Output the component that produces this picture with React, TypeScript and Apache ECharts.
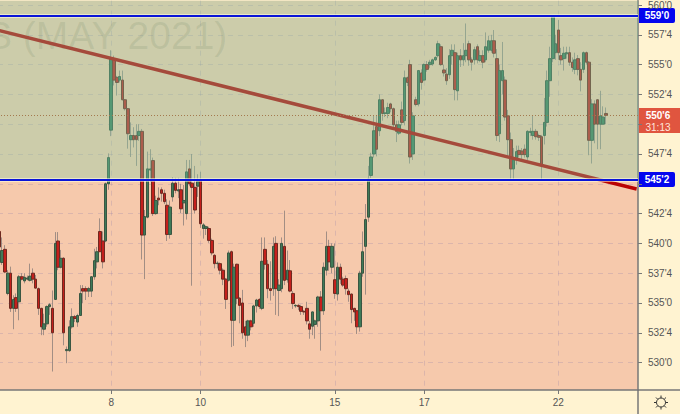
import React, { useEffect, useRef } from "react";
import * as echarts from "echarts";

const opens = [
  541,538.4,539.5,535.8,537.5,534.55,535.45,535.1,537.2,536.85,
  537,536.9,537.5,537,536.2,534.55,532.8,533.25,534.7,534.55,
  535.3,540.2,538,538.75,531,531,533,533.85,533.4,533.95,
  536.2,536.2,536,536,537.2,538.45,541,540.2,540.2,545,
  549.5,555.47,553.93,553.7,553.7,552.05,551.3,548.7,549.05,549.05,
  549.05,549.4,540.7,542.2,546.15,546.95,542.5,543.8,544.5,544.2,
  543.2,540.75,543.9,545.05,544.4,544.5,543.4,542.5,546.25,545.05,
  544.7,544.8,545.27,541.25,541.25,541.25,540.25,539,538.3,538.3,
  537.75,537,536.9,539.3,533.55,538.25,535.4,535,533,532.3,
  533.5,533.3,534.75,535.3,534.55,539.5,538.25,536.2,536.2,540,
  536.05,536.2,539.75,536.95,537.7,535.8,534.75,534.8,534.7,534.3,
  534.55,533.25,533.05,533.2,533.5,535.5,534.35,537.75,539.75,538,
  536.95,535.75,538,537,537.05,536,535.75,534.55,534.35,533,
  537.5,539.75,542.2,545.7,547.5,549.8,549.45,552.05,550.9,550.9,
  551.7,551.3,549.95,549.25,551.2,550.3,553.9,555,547.5,552.05,
  551.7,554.3,553.7,555,555,555.05,555.4,555.75,556.5,554.55,
  554.2,554.15,555.75,556,552.8,555.75,555.4,555.75,556.75,555.4,
  555.4,556.5,555.35,555.75,555.4,556.2,556.2,557,555.5,549.2,
  553.65,553.7,550.7,548.7,546.25,547,547.8,547.75,547.9,547.25,
  549.3,549.05,549.4,549.05,548.95,549.05,550.15,553.65,555.5,556,
  557.9,555.75,555.5,555.9,556,555.2,554.6,555.5,554.6,554.6,
  556,555.2,548.65,551.7,552.05,550,550,550.9,
];
const closes = [
  539.7,539.4,537.6,537.5,534.55,535.3,534.55,537.2,537,537.15,
  537.1,537.25,537,536.25,534.55,533,533.25,534.7,534.85,532.5,
  540,538,538.75,532.5,531.1,533,533.85,533.7,533.95,535.8,
  536,536,536.2,537.2,538.55,539.3,539.3,538.45,545,547.2,
  555.5,553.7,553.5,554,552.05,551.3,549.2,549.05,548.7,548.7,
  549.4,540.7,542.25,546.25,546.25,542.5,543.6,543.65,544.2,543.5,
  540.75,543.05,545.05,544.45,544.5,542.9,543.6,546,545,544.7,
  542.8,545.2,541.65,541.55,541.4,540.25,539.2,538.3,538.35,537.75,
  537,535.3,539.2,533.55,538,535.4,534.8,532.5,532.3,533.5,
  533,534.75,535.25,534.7,538.5,538.25,536.2,536.05,539.75,536.2,
  536.5,540,536.9,537.75,536,534.95,534.8,534.7,534.3,534.25,
  533.5,532.8,534.25,533.5,535.5,534.35,538,539.75,538.45,539.75,
  535.8,538,537,536.5,536.2,535.7,534.45,534.25,533,537.5,
  539.3,542,545.4,547.25,549.45,547.9,552.05,550.9,550.95,551.4,
  551.3,549.95,549.4,549.95,550.15,553.9,553.5,547.25,550.7,551.65,
  554.5,553.5,555,554.6,555.2,555.4,555.6,556.75,555,554.3,
  553.65,555.75,556.2,552.9,555.75,555.4,555.75,556.2,555.4,555.2,
  556.25,555.4,555.75,555.2,556.5,557,557,555.95,549.05,554.5,
  554.5,550.6,548.7,546.25,547,547.7,547.45,547.45,547.45,549.4,
  549.4,549.4,548.95,548.9,546.6,550.15,553.65,555.5,559.1,556.75,
  556,555.4,555.95,556,555.2,554.75,555.4,554.6,553.7,556,
  555.2,548.65,551.7,550,550,550.7,550.6,550.75,
];
const lows = [
  539.6,538.2,537.5,535.65,534.25,532.8,534.25,533.55,536.9,536.65,
  536.9,536.8,536.65,536.2,534,532.3,532.3,533,534,529.25,
  535.25,537.75,537.9,531.45,529.95,530.9,532.85,533.4,533,533.95,
  535,535.25,535.5,535.5,536.95,537.9,539.3,537.9,540.1,544.5,
  549,553.25,552.4,553.5,552,551.15,547.95,547.25,548.05,546.5,
  548.6,538.65,537,542.1,545.15,542.3,542.4,543.2,543.5,543.3,
  540.2,540.4,543.5,544.2,543.8,542.55,541.5,542,544.8,536.45,
  542.5,543.9,541.3,540.4,540.7,540.05,539,537.9,537.9,537.4,
  536.5,534.5,536.8,531.3,531.4,534.9,533.3,532,531.3,531.8,
  532.7,533,534.2,534.5,534.4,537.8,535.4,535.2,535.6,534,
  533.9,535.9,536.5,536.7,535.9,534.5,534.6,534.4,534,534,
  533.2,532,532.3,532,533,531,534,537.3,537.7,537.5,
  535.35,535.2,536.6,536.35,535.7,535.1,533.3,533.5,532.4,532.6,
  537.2,535.7,541.8,545.5,547.2,547.3,549,550.3,550.6,550.5,
  551,549.7,548.5,549.1,549.9,549.9,553.2,546.7,547,551.5,
  551.5,552.9,553.6,554.4,554.7,554.9,555.3,555.6,554.9,554,
  553.3,553.8,555,552,552,554.8,554.9,555.2,554.9,554.5,
  555,555.1,555.2,554.7,555.2,556,556,555.6,548.6,548.5,
  552.5,550.3,547.3,545.25,545.3,546.6,547.2,546.9,547.2,547,
  549,548.7,548.7,548.6,545.4,548.3,549.8,552.3,555.2,555.4,
  555.4,555,554.5,555.5,554.9,554.4,554.2,554.1,552.75,554.3,
  555,547.4,546.7,548.4,547.9,547.9,550,550,
];
const highs = [
  541.05,540.5,539.85,537.75,538.05,535.65,535.8,537.35,537.5,537.5,
  537.3,538.3,537.9,537.35,536.3,534.6,534.1,534.8,535,536.05,
  540.95,540.95,539.45,538.85,531.35,533.55,534.55,534,534.1,536.5,
  536.5,536.4,536.35,537.25,539.55,539.7,542.1,541,545.1,547.55,
  556.2,555.75,554.05,554.5,554.5,552.1,551.35,550.15,549.75,550,
  550,549.6,542.8,547.7,547.9,547.2,544,544.7,544.7,544.5,
  543.7,543.6,545.55,545.5,545.5,545,544.9,547,547,547.5,
  546.5,545.8,546,541.7,541.5,541.4,540.4,539.1,538.5,538.4,
  537.9,537.1,539.4,539.4,538.3,538.3,535.5,536.1,533.5,533.6,
  533.6,534.85,535.35,535.4,540.5,540.5,538.6,538.5,540.5,540.6,
  537,540.5,542.75,539.4,538.6,536,534.9,534.9,534.85,534.4,
  535.1,533.5,534.3,533.6,535.6,536,538.4,541,540.3,540,
  540,538.4,538.3,537.2,537.3,536.2,535.8,534.6,534.4,537.7,
  541,543.3,546.5,547.6,550.7,550.7,552.5,552.1,551.4,551.8,
  551.8,551.4,550.3,550.3,551.9,554.5,554,555.4,551,552.3,
  554.55,554.6,555.1,555.3,555.4,555.5,555.7,557,556.7,555,
  554.7,556.3,556.7,556.7,556,556.3,556.8,558.45,557,555.6,
  556.5,556.7,556.2,556.2,557.7,557.4,557.5,557.9,556.3,555,
  556.9,554,551.2,549.3,548,548.2,548.2,548,548.3,549.5,
  549.7,550.75,549.6,549.2,549.1,552.2,554.5,556.5,559.15,557.5,
  558.75,556.4,556.5,556.5,556.5,555.6,556,555.8,555.2,556.1,
  556.1,555.3,552.1,552,552.1,552.8,551.5,551.4,
];

const slotCount = 229;
const dateIndexes = [40, 72, 120, 152, 200];
const dateLabels = ["8", "10", "15", "17", "22"];
const priceTicks = [530, 532.5, 535, 537.5, 540, 542.5, 545, 547.5, 550, 552.5, 555, 557.5, 560];
// 545'0 and 550'0 sit under the price flags in the reference, so only their ticks show.
const priceLabels = [530, 532.5, 535, 537.5, 540, 542.5, 547.5, 552.5, 555, 557.5, 560];
const resistance = 559.1;
const support = 545.3;
const lastPrice = 550.75;
const trendStart = 557.85;
const trendEnd = 544.56;
const axisMin = 527.7;
const axisMax = 560.36;

const FONT = "'Liberation Sans', Arial, sans-serif";
const GEAR =
  "M-4.5 0a4.5 4.5 0 1 0 9 0a4.5 4.5 0 1 0 -9 0Z M0 -7V-4.5 M0 4.5V7 M-7 0H-4.5 M4.5 0H7 " +
  "M-5 -5L-3.2 -3.2 M3.2 3.2L5 5 M5 -5L3.2 -3.2 M-3.2 3.2L-5 5";

const fmtPrice = (v: number) => `${Math.floor(v)}'${Math.round((v - Math.floor(v)) * 8)}`;

export default function App() {
  const ref = useRef<HTMLDivElement>(null);
  useEffect(() => {
    document.body.style.margin = "0";
    echarts.graphic.registerShape("gear", echarts.graphic.extendPath(GEAR, {}));
    const chart = echarts.init(ref.current!, undefined, { renderer: "svg" });
    const cats = Array.from({ length: slotCount }, (_, i) => {
      const d = dateIndexes.indexOf(i);
      return d >= 0 ? dateLabels[d] : `b${i}`;
    });
    const isDate = (i: number) => dateIndexes.includes(i);
    const full = opens.map((o, i) => [o, closes[i], lows[i], highs[i]]);
    const bodies = opens.map((o, i) => [o, closes[i], Math.min(o, closes[i]), Math.max(o, closes[i])]);
    chart.setOption({
      animation: false,
      backgroundColor: "#fff3d1",
      textStyle: { fontFamily: FONT },
      grid: {
        left: 0,
        top: 0,
        width: 640,
        height: 390,
        show: true,
        backgroundColor: "#f6c9ac",
        borderWidth: 0,
      },
      xAxis: {
        type: "category",
        data: cats,
        axisLine: { show: true, lineStyle: { color: "#777", width: 1.5 } },
        axisTick: { show: true, interval: isDate, alignWithLabel: true, length: 4, lineStyle: { color: "#777" } },
        axisLabel: { interval: isDate, color: "#555", fontSize: 10, margin: 7, fontFamily: FONT },
        splitLine: {
          show: true,
          interval: isDate,
          alignWithLabel: true,
          lineStyle: { color: "rgba(150,130,170,0.28)", type: [5, 5], width: 1 },
        },
      },
      yAxis: {
        type: "value",
        position: "right",
        min: axisMin,
        max: axisMax,
        axisLine: { show: true, lineStyle: { color: "#777", width: 1.5 } },
        axisTick: { show: true, customValues: priceTicks, length: 4, lineStyle: { color: "#777" } },
        axisLabel: {
          customValues: priceLabels,
          formatter: (v: number) => fmtPrice(v),
          color: "#555",
          fontSize: 10,
          margin: 10,
          fontFamily: FONT,
        },
        splitLine: {
          show: true,
          lineStyle: { color: "rgba(150,130,170,0.28)", type: [5, 5], width: 1 },
        },
      },
      series: [
        {
          type: "candlestick",
          name: "wicks",
          z: 2,
          barWidth: 1,
          silent: true,
          data: full,
          itemStyle: {
            color: "#8d7f7a",
            color0: "#8d7f7a",
            borderColor: "#8d7f7a",
            borderColor0: "#8d7f7a",
            borderWidth: 1,
            opacity: 0.8,
          },
        },
        {
          type: "candlestick",
          name: "bodies",
          z: 3,
          barWidth: 3,
          silent: true,
          data: bodies,
          itemStyle: {
            color: "#3f7a58",
            color0: "#c4201c",
            borderColor: "#3a5642",
            borderColor0: "#6e2a20",
            borderWidth: 1,
          },
        },
        {
          type: "line",
          name: "trend",
          data: [],
          silent: true,
          markLine: {
            z: 4,
            silent: true,
            symbol: "none",
            label: { show: false },
            lineStyle: { color: "#ba0303", width: 3.5, type: "solid" },
            data: [[{ coord: [0, trendStart] }, { coord: [slotCount - 1, trendEnd] }]],
          },
        },
        {
          type: "line",
          name: "last",
          data: [],
          silent: true,
          markLine: {
            z: 4,
            silent: true,
            symbol: "none",
            label: { show: false },
            lineStyle: { color: "#b84a20", width: 1, type: [1, 2] },
            data: [{ yAxis: lastPrice }],
          },
        },
        {
          type: "line",
          name: "tint",
          data: [],
          silent: true,
          markArea: {
            z: 6,
            silent: true,
            itemStyle: { color: "rgba(126,210,166,0.35)" },
            data: [[{ yAxis: support }, { yAxis: axisMax }]],
          },
        },
        {
          type: "line",
          name: "halo",
          data: [],
          silent: true,
          markLine: {
            z: 7,
            silent: true,
            symbol: "none",
            label: { show: false },
            lineStyle: { color: "rgba(255,255,225,0.55)", width: 4, type: "solid" },
            data: [{ yAxis: resistance }, { yAxis: support }],
          },
        },
        {
          type: "line",
          name: "levels",
          data: [],
          silent: true,
          markLine: {
            z: 8,
            silent: true,
            symbol: "none",
            label: { show: false },
            lineStyle: { color: "#0a14d8", width: 2, type: "solid" },
            data: [{ yAxis: resistance }, { yAxis: support }],
          },
        },
      ],
      graphic: [
        {
          type: "text",
          x: -12,
          y: 16,
          z: 1,
          style: {
            text: "S (MAY 2021)",
            font: `39px ${FONT}`,
            fill: "rgba(60,60,30,0.13)",
          },
        },
        {
          type: "group",
          x: 2,
          y: 0,
          children: [
            { type: "line", shape: { x1: 638, y1: 390, x2: 638, y2: 414 }, style: { stroke: "#777", lineWidth: 1.5 } },
            { type: "line", shape: { x1: 638, y1: 390, x2: 680, y2: 390 }, style: { stroke: "#777", lineWidth: 1.5 } },
            { type: "gear", x: 661, y: 402.5, style: { stroke: "#333", fill: "none", lineWidth: 1 } },
            { type: "rect", shape: { x: 639, y: 8, width: 36, height: 15, r: [0, 2, 2, 0] }, style: { fill: "#0505ee" } },
            {
              type: "text",
              x: 657,
              y: 15.5,
              style: { text: "559'0", fill: "#fff", font: `bold 10px ${FONT}`, align: "center", verticalAlign: "middle" },
            },
            { type: "rect", shape: { x: 639, y: 172, width: 36, height: 15, r: [0, 2, 2, 0] }, style: { fill: "#0505ee" } },
            {
              type: "text",
              x: 657,
              y: 179.5,
              style: { text: "545'2", fill: "#fff", font: `bold 10px ${FONT}`, align: "center", verticalAlign: "middle" },
            },
            { type: "rect", shape: { x: 639, y: 108, width: 41, height: 25 }, style: { fill: "#e0553f" } },
            {
              type: "text",
              x: 658,
              y: 115.5,
              style: { text: "550'6", fill: "#fff", font: `bold 10px ${FONT}`, align: "center", verticalAlign: "middle" },
            },
            {
              type: "text",
              x: 658,
              y: 127,
              style: { text: "31:13", fill: "#ffe6dc", font: `10px ${FONT}`, align: "center", verticalAlign: "middle" },
            },
          ],
        },
      ],
    });
    return () => chart.dispose();
  }, []);
  return (
    <div style={{ position: "relative", width: 680, height: 414, overflow: "hidden" }}>
      <div ref={ref} style={{ position: "absolute", left: -2, top: 0, width: 682, height: 414 }} />
    </div>
  );
}
